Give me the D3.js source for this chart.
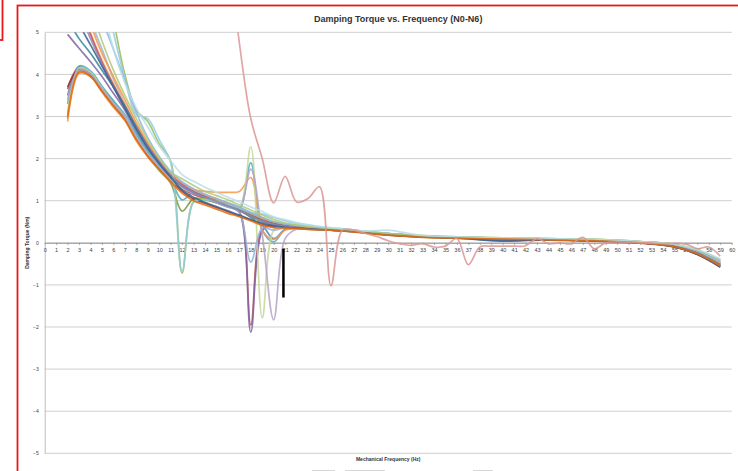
<!DOCTYPE html>
<meta charset="utf-8">
<script src="https://d3js.org/d3.v7.min.js"></script>
<style>
body { margin: 0; background: #fff; }
text { font-family: "Liberation Sans", Arial, sans-serif; }
</style>
<body>
<svg width="738" height="471"></svg>

<script>
    // frequency grid shared by the bundle of runs (Hz)
    var freq = [2,3,4,5,6,7,8,9,10,11,12,13,14,15,16,17,18,19,20,21,22,23,24,25,26,28,30,33,36,40,44,48,52,55,57,59];

    // damping torque per run (Nm)
    var s01 = [3.50,4.15,4.05,3.70,3.35, 3.00,2.55,2.15,1.80,1.50, 1.30,1.18,1.08,0.98,0.88, 0.78,0.60,0.42,0.10,0.32, 0.36,0.34,0.32,0.30,0.29, 0.24,0.20,0.14,0.12,0.05, 0.08,0.05,0.01,-0.07,-0.22,-0.50];
    var s02 = [3.65,4.18,4.02,3.68,3.32, 2.98,2.50,2.10,1.78,1.48, 1.28,1.15,1.05,0.95,0.85, 0.74,-1.95,0.32,0.42,0.40, 0.37,0.35,0.33,0.31,0.30, 0.25,0.20,0.15,0.12,0.10, 0.07,0.05,0.00,-0.08,-0.24,-0.52];
    var s03 = [2.95,4.08,3.98,3.62,3.28, 2.95,2.45,2.05,1.72,1.42, 0.75,1.05,1.02,0.95,0.86, 0.76,0.62,0.50,0.42,0.40, 0.37,0.35,0.33,0.32,0.30, 0.26,0.21,0.16,0.13,0.10, 0.08,0.07,0.02,-0.05,-0.20,-0.48];
    var s04 = [4.95,4.62,4.30,3.95,3.55, 3.15,2.65,2.22,1.88,1.55, 1.32,1.18,1.08,0.98,0.88, 0.72,-2.12,0.28,0.46,0.42, 0.38,0.35,0.33,0.31,0.30, 0.25,0.20,0.15,0.12,0.10, 0.08,0.05,0.01,-0.08,-0.25,-0.55];
    var s05 = [3.30,4.20,4.08,3.72,3.38, 3.05,2.60,2.18,1.85,1.52, 1.02,1.20,1.10,1.00,0.90, 0.80,1.90,0.30,0.02,0.32, 0.34,0.33,0.32,0.30,0.29, 0.25,0.22,0.15,0.12,0.10, 0.08,0.05,0.00,-0.10,-0.28,-0.56];
    var s06 = [2.88,4.02,3.95,3.58,3.22, 2.90,2.42,2.05,1.75,1.48, 1.32,1.25,1.22,1.20,1.20, 1.22,1.55,0.30,0.08,0.30, 0.33,0.32,0.31,0.30,0.29, 0.24,0.19,0.14,0.12,0.10, 0.07,0.05,0.00,-0.08,-0.24,-0.50];
    var s07 = [3.70,4.12,3.98,3.62,3.28, 2.95,2.48,2.10,1.78,1.50, 1.22,1.04,0.94,0.84,0.74, 0.64,0.54,0.44,0.38,0.36, 0.35,0.33,0.31,0.30,0.28, 0.24,0.18,0.14,0.11,0.08, 0.06,0.04,-0.01,-0.10,-0.28,-0.58];
    var s08 = [3.10,4.15,4.05,3.68,3.32, 3.00,2.52,2.12,1.80,1.50, 1.30,1.20,1.12,1.02,0.92, 0.85,2.28,-1.78,0.30,0.42, 0.40,0.37,0.35,0.33,0.31, 0.26,0.22,0.16,0.13,0.11, 0.09,0.08,0.03,-0.04,-0.18,-0.44];
    var s09 = [3.40,4.10,4.00,3.65,3.30, 2.98,2.50,2.12,1.80,1.50, 1.30,1.18,1.08,0.98,0.88, 0.80,1.75,0.20,-1.83,0.10, 0.32,0.33,0.32,0.30,0.29, 0.25,0.20,0.15,0.12,0.10, 0.08,0.06,0.01,-0.06,-0.22,-0.50];
    var s10 = [7.00,6.20,5.30,4.60,3.90, 3.30,2.80,2.30,1.90,1.60, 1.35,1.20,1.10,0.95,0.85, 0.72,-0.46,0.35,0.30,0.36, 0.36,0.34,0.32,0.31,0.30, 0.25,0.21,0.15,0.13,0.11, 0.08,0.06,0.02,-0.06,-0.20,-0.46];
    var s11 = [6.80,5.90,5.00,4.35,3.80, 3.30,2.80,2.35,1.95,1.62, 1.40,1.25,1.12,1.02,0.92, 0.82,0.68,0.55,0.47,0.42, 0.39,0.36,0.34,0.32,0.31, 0.26,0.21,0.16,0.13,0.11, 0.08,0.06,0.02,-0.06,-0.20,-0.46];
    var s12 = [7.20,6.20,5.20,4.50,3.95, 3.40,2.85,2.38,1.98,1.65, 1.42,1.28,1.15,1.05,0.95, 0.84,0.70,0.58,0.48,0.42, 0.40,0.37,0.35,0.33,0.31, 0.26,0.21,0.16,0.13,0.10, 0.08,0.06,0.01,-0.07,-0.23,-0.50];
    var s13 = [6.50,5.70,4.95,4.30,3.75, 3.25,2.75,2.30,1.92,1.60, 1.38,1.22,1.10,1.00,0.90, 0.80,0.66,0.54,0.46,0.41, 0.38,0.36,0.34,0.32,0.30, 0.25,0.20,0.15,0.12,0.10, 0.07,0.05,0.00,-0.09,-0.26,-0.54];
    var s14 = [5.30,4.85,4.50,4.10,3.70, 3.25,2.75,2.30,1.92,1.58, 1.35,1.20,1.08,0.98,0.88, 0.78,0.64,0.52,0.44,0.40, 0.37,0.35,0.33,0.31,0.30, 0.25,0.20,0.15,0.12,0.10, 0.08,0.06,0.01,-0.08,-0.24,-0.52];
    var s15 = [10.0,9.00,7.80,6.60,5.30, 4.00,3.15,2.88,2.35,1.95, -0.72,0.98,1.05,1.00,0.92, 0.82,0.70,0.60,0.50,0.45, 0.42,0.38,0.35,0.33,0.32, 0.27,0.22,0.17,0.14,0.12, 0.10,0.08,0.03,-0.04,-0.17,-0.42];
    var s16 = [9.50,8.50,7.40,6.20,5.00, 3.90,3.05,2.95,2.45,1.90, -0.68,0.96,1.02,0.98,0.90, 0.82,0.72,0.68,0.60,0.52, 0.46,0.42,0.38,0.35,0.33, 0.27,0.22,0.16,0.13,0.11, 0.09,0.07,0.02,-0.05,-0.18,-0.42];
    var s17 = [8.00,7.00,6.00,5.30,4.60, 3.85,3.10,2.50,2.05,1.70, 1.45,1.28,1.15,1.05,0.95, 0.85,0.72,0.60,0.50,0.44, 0.40,0.37,0.35,0.33,0.31, 0.26,0.22,0.16,0.13,0.11, 0.09,0.07,0.02,-0.05,-0.19,-0.45];
    var s18 = [6.20,5.50,4.85,4.25,3.70, 3.20,2.72,2.28,1.92,1.60, 1.36,1.20,1.08,0.98,0.88, 0.78,0.64,0.52,0.44,0.40, 0.37,0.35,0.33,0.31,0.30, 0.25,0.20,0.15,0.12,0.10, 0.08,0.05,0.01,-0.08,-0.25,-0.54];
    var s19 = [5.80,5.20,4.70,4.20,3.70, 3.20,2.70,2.25,1.88,1.56, 1.25,1.08,0.96,0.86,0.76, 0.66,0.55,0.46,0.40,0.37, 0.35,0.34,0.32,0.30,0.29, 0.24,0.19,0.14,0.11,0.04, 0.07,0.05,0.00,-0.09,-0.27,-0.57];
    var s20 = [7.50,6.50,5.60,4.80,4.10, 3.50,2.95,2.45,2.02,1.68, 1.52,1.36,1.22,1.12,1.02, 0.90,0.78,0.66,0.55,0.47, 0.42,0.38,0.36,0.34,0.32, 0.27,0.22,0.17,0.14,0.12, 0.10,0.08,0.03,-0.04,-0.17,-0.40];
    var s21 = [8.80,7.80,6.80,5.70,4.60, 3.80,3.20,2.75,2.30,1.95, 1.62,1.46,1.32,1.20,1.08, 0.97,0.85,0.74,0.62,0.55, 0.48,0.43,0.39,0.36,0.34, 0.28,0.30,0.17,0.14,0.12, 0.10,0.08,0.03,-0.04,-0.16,-0.38];
    var s22 = [3.00,4.05,3.95,3.60,3.25, 2.92,2.45,2.05,1.75,1.45, 1.18,1.00,0.90,0.80,0.70, 0.62,0.52,0.42,0.36,0.35, 0.34,0.32,0.31,0.30,0.28, 0.23,0.18,0.13,0.11,0.09, 0.07,0.05,0.00,-0.09,-0.26,-0.55];

    // the odd run that comes in from the top at ~17 Hz
    var pinkFreq = [2,6,10,14,15,16,17,18,19,20,21,22,23,24,25,26,27,28,29,30,31,32,33,34,35,36,37,38,39,40,41,42,43,44,45,46,47,48,49,50,52,54,56,57,58,59];
    var pinkVals = [16,14,12,10,8.8,7.0,4.75,2.95,2.0,0.95,1.58,0.97,1.05,1.33,-1.02,0.30,0.30,0.22,0.15,0.05,-0.02,-0.06,-0.02,-0.10,-0.08,0.10,-0.52,-0.10,-0.08,-0.08,-0.08,-0.07,0.10,-0.02,0.00,-0.02,0.13,-0.14,0.00,0.02,0.00,-0.02,-0.03,-0.14,-0.10,-0.32];

    var colors = ['#4F81BD','#C0504D','#77933C','#8064A2','#4BACC6','#F79646','#943634','#C3D69B','#B3A2C7','#95B3D7','#FAC090',
                  '#F79646','#C0504D','#31859C','#9BBB59','#93CDDD','#8EB4E3','#9983B5','#376092','#AFC97A','#B7DEE8','#E46C0A'];

    // black marker drawn on the chart at ~20.85 Hz
    var markerFreq = 20.85, markerRange = [-0.14, -1.3];

    var xTicks = d3.range(0, 61, 1);
    var yTicks = [5,4,3,2,1,0,-1,-2,-3,-4,-5];

    var svg = d3.select('svg');
    var pL = 44.7, pR = 731.7, pT = 32.3, pB = 453.3;

    var x = d3.scaleLinear().domain([0, 60]).range([pL, pR]);
    var y = d3.scaleLinear().domain([-5, 5]).range([pB, pT]);

    /* ----------- frames ----------- */
    svg.append('rect').attr('x', -20).attr('y', -20).attr('width', 22.5).attr('height', 60)
        .attr('fill', 'none').attr('stroke', '#e8191c').attr('stroke-width', 1.8);
    svg.append('rect').attr('x', 17.5).attr('y', 5.5).attr('width', 800).attr('height', 600)
        .attr('fill', 'none').attr('stroke', '#e8191c').attr('stroke-width', 1.8);

    /* ----------- title ----------- */
    svg.append('text').attr('x', (pL + pR) / 2 + 10).attr('y', 22)
        .attr('text-anchor', 'middle').attr('font-size', 9).attr('font-weight', 'bold').attr('fill', '#333')
        .text('Damping Torque vs. Frequency (N0-N6)');

    /* ----------- grid ----------- */
    svg.selectAll('line.grid').data(yTicks).enter().append('line')
        .attr('class', 'grid')
        .attr('x1', pL).attr('x2', pR)
        .attr('y1', function(d){ return y(d); }).attr('y2', function(d){ return y(d); })
        .attr('stroke', '#cfcfcf').attr('stroke-width', 1);

    /* ----------- y axis ----------- */
    var yAxis = svg.append('g').attr('transform', 'translate(' + pL + ',0)')
        .call(d3.axisLeft(y).tickValues(yTicks).tickSize(0).tickPadding(6).tickFormat(d3.format('d')));
    yAxis.select('.domain').attr('stroke', '#bdbdbd');
    yAxis.selectAll('text').attr('font-size', 5).attr('fill', '#404040').attr('font-family', 'Liberation Sans');

    svg.append('text').attr('transform', 'translate(29,' + ((pT + pB) / 2) + ') rotate(-90)')
        .attr('text-anchor', 'middle').attr('font-size', 5).attr('font-weight', 'bold').attr('fill', '#333')
        .text('Damping Torque (Nm)');

    /* ----------- x axis (sits on zero) ----------- */
    var xAxis = svg.append('g').attr('transform', 'translate(0,' + y(0) + ')')
        .call(d3.axisBottom(x).tickValues(xTicks).tickSizeInner(2).tickSizeOuter(0).tickPadding(3));
    xAxis.select('.domain').attr('stroke', '#9a9a9a');
    xAxis.selectAll('line').attr('stroke', '#9a9a9a');
    xAxis.selectAll('text').attr('font-size', 5.5).attr('fill', '#404040').attr('font-family', 'Liberation Sans');

    svg.append('text').attr('x', (pL + pR) / 2).attr('y', 461)
        .attr('text-anchor', 'middle').attr('font-size', 5).attr('font-weight', 'bold').attr('fill', '#333')
        .text('Mechanical Frequency (Hz)');

    /* ----------- series ----------- */
    svg.append('clipPath').attr('id', 'plot')
        .append('rect').attr('x', pL).attr('y', pT).attr('width', pR - pL).attr('height', pB - pT);

    var runs = [s01,s02,s03,s04,s05,s06,s07,s08,s09,s10,s11,s12,s13,s14,s15,s16,s17,s18,s19,s20,s21,s22];
    var table = runs.map(function(vals, i){
        return { c: colors[i], pts: freq.map(function(f, k){ return [f, vals[k]]; }) };
    });
    table.push({ c: '#D99694', pts: pinkFreq.map(function(f, k){ return [f, pinkVals[k]]; }) });

    var line = d3.line()
        .x(function(d){ return x(d[0]); })
        .y(function(d){ return y(d[1]); })
        .curve(d3.curveCatmullRom.alpha(0.5));

    svg.append('g').attr('clip-path', 'url(#plot)')
        .selectAll('path').data(table).enter().append('path')
        .attr('d', function(d){ return line(d.pts); })
        .attr('fill', 'none')
        .attr('stroke', function(d){ return d.c; })
        .attr('stroke-width', 1.7)
        .attr('stroke-opacity', 0.85)
        .attr('stroke-linejoin', 'round');

    /* ----------- marker ----------- */
    svg.append('line')
        .attr('x1', x(markerFreq)).attr('x2', x(markerFreq))
        .attr('y1', y(markerRange[0])).attr('y2', y(markerRange[1]))
        .attr('stroke', '#000').attr('stroke-width', 2.5);

    /* ----------- legend stubs cut off at the bottom ----------- */
    [[312, 335], [345, 385], [473, 493]].forEach(function(s){
        svg.append('line').attr('x1', s[0]).attr('x2', s[1]).attr('y1', 470.5).attr('y2', 470.5)
            .attr('stroke', '#d6d6d6').attr('stroke-width', 1);
    });
</script>
</body>
